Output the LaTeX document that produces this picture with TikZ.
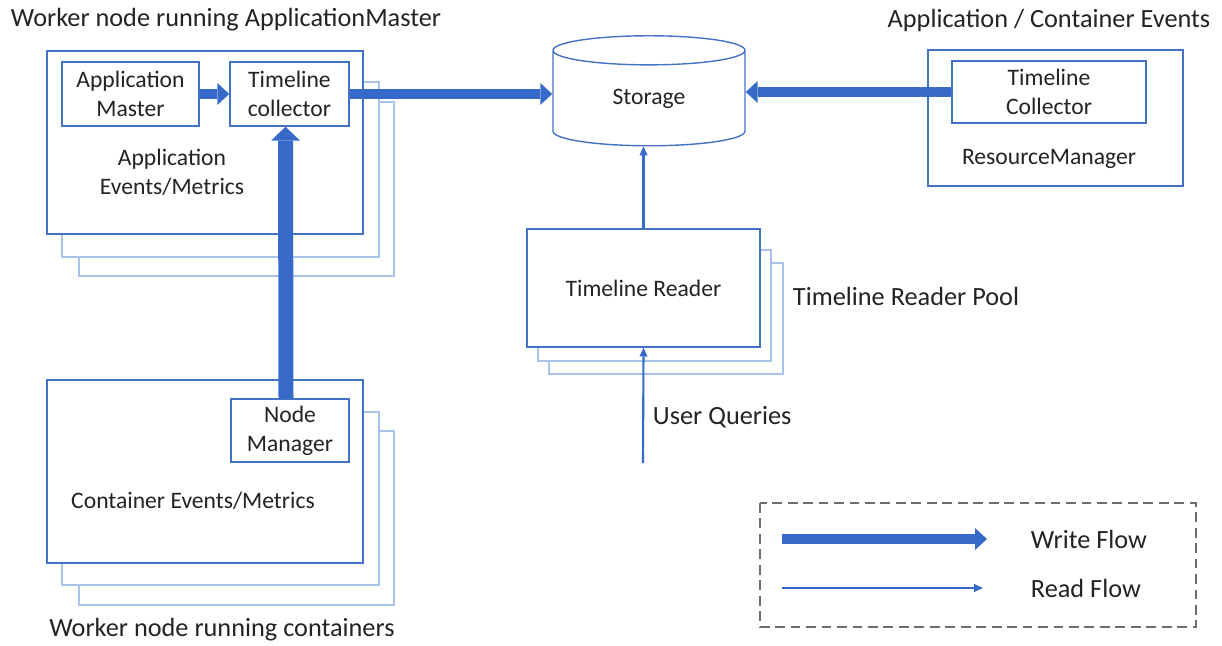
\documentclass[tikz,border=0pt]{standalone}
\usepackage{fontspec}
\setmainfont{Carlito}
\usetikzlibrary{arrows.meta,shapes.geometric}
\definecolor{boxblue}{RGB}{68,114,196}
\definecolor{paleblue}{RGB}{168,194,234}
\definecolor{flowblue}{RGB}{55,106,200}
\definecolor{txtgray}{RGB}{35,35,35}
\definecolor{legendgray}{RGB}{110,110,110}

\begin{document}
\begin{tikzpicture}[
	every node/.style={font=\fontsize{16.8}{20.5}\selectfont,text=txtgray},
	lbl/.style={font=\fontsize{18.7}{22}\selectfont},
	frame/.style={draw=boxblue,line width=1pt,fill=white},
	shadow/.style={draw=paleblue,line width=1pt,fill=white},
	writeflow/.style={flowblue,line width=0.25cm,-{Triangle[width=0.55cm,length=0.3cm,line width=0pt]}},
	wideflow/.style={flowblue,line width=0.375cm,-{Triangle[width=0.725cm,length=0.35cm,line width=0pt]}},
	readflow/.style={flowblue,line width=1.5pt,-{Triangle[width=0.2cm,length=0.22cm,line width=0pt]}}
	]
	\useasboundingbox (0,0) rectangle (30.55,-16.15);

	\draw[shadow] (1.975,-2.55) rectangle (9.85,-6.9);
	\draw[shadow] (1.55,-2.05) rectangle (9.475,-6.425);
	\draw[frame] (1.175,-1.275) rectangle (9.075,-5.85);
	\node[lbl,anchor=west] (amtitle) at (0.15,-0.5) {Worker node running ApplicationMaster};
	\node[frame,align=center,minimum width=3.425cm,minimum height=1.6cm] (am) at (3.2625,-2.35) {Application\\Master};
	\node[frame,align=center,minimum width=2.975cm,minimum height=1.6cm] (tc) at (7.2375,-2.35) {Timeline\\collector};
	\node[align=center] (amev) at (4.3,-4.3) {Application\\Events/Metrics};

	\draw[shadow] (1.975,-10.775) rectangle (9.85,-15.125);
	\draw[shadow] (1.55,-10.3) rectangle (9.475,-14.625);
	\draw[frame] (1.175,-9.5) rectangle (9.075,-14.075);
	\node[frame,align=center,minimum width=2.95cm,minimum height=1.575cm] (nm) at (7.25,-10.7625) {Node\\Manager};
	\node (cev) at (4.825,-12.525) {Container Events/Metrics};
	\node[lbl] (cwtitle) at (5.55,-15.75) {Worker node running containers};

	\node[cylinder,shape border rotate=90,draw=boxblue,line width=1pt,minimum width=4.8cm,minimum height=2.75cm,aspect=0.4,inner sep=0pt] (stor) at (16.225,-2.46) {Storage};

	\draw[frame] (23.2,-1.25) rectangle (29.575,-4.65);
	\node[lbl] (rmtitle) at (26.225,-0.5) {Application / Container Events};
	\node[frame,align=center,minimum width=4.85cm,minimum height=1.55cm] (rtc) at (26.225,-2.3) {Timeline\\Collector};
	\node (rm) at (26.225,-3.975) {ResourceManager};

	\draw[shadow] (13.725,-6.575) rectangle (19.575,-9.35);
	\draw[shadow] (13.45,-6.25) rectangle (19.275,-9.025);
	\node[frame,minimum width=5.825cm,minimum height=2.95cm] (rdr) at (16.0875,-7.2) {Timeline Reader};
	\node[lbl,anchor=west] (pool) at (19.7,-7.4) {Timeline Reader Pool};
	\coordinate (uq) at (16.075,-11.575);
	\node[lbl,anchor=west] (uqlab) at (16.2,-10.425) {User Queries};

	\draw[writeflow] (am) -- (tc);
	\draw[writeflow] (tc.east) -- (tc.east -| stor.west);
	\draw[writeflow] (rtc.west) -- (rtc.west -| stor.east);
	\draw[wideflow] ([xshift=-0.1cm]nm.north) -- ([xshift=-0.1cm]tc.south);
	\draw[readflow] (rdr.north) -- (rdr.north |- stor.south);
	\draw[readflow] (uq) -- (rdr.south);

	\draw[legendgray,line width=1.2pt,dash pattern=on 7pt off 4pt] (19,-12.575) rectangle (29.9,-15.675);
	\coordinate (wa) at (19.55,-13.475);
	\coordinate (wb) at (24.675,-13.475);
	\coordinate (ra) at (19.55,-14.7);
	\coordinate (rb) at (24.575,-14.7);
	\draw[writeflow] (wa) -- (wb);
	\draw[readflow] (ra) -- (rb);
	\node[lbl,anchor=west] (wlab) at (25.65,-13.475) {Write Flow};
	\node[lbl,anchor=west] (rlab) at (25.65,-14.7) {Read Flow};
\end{tikzpicture}
\end{document}
